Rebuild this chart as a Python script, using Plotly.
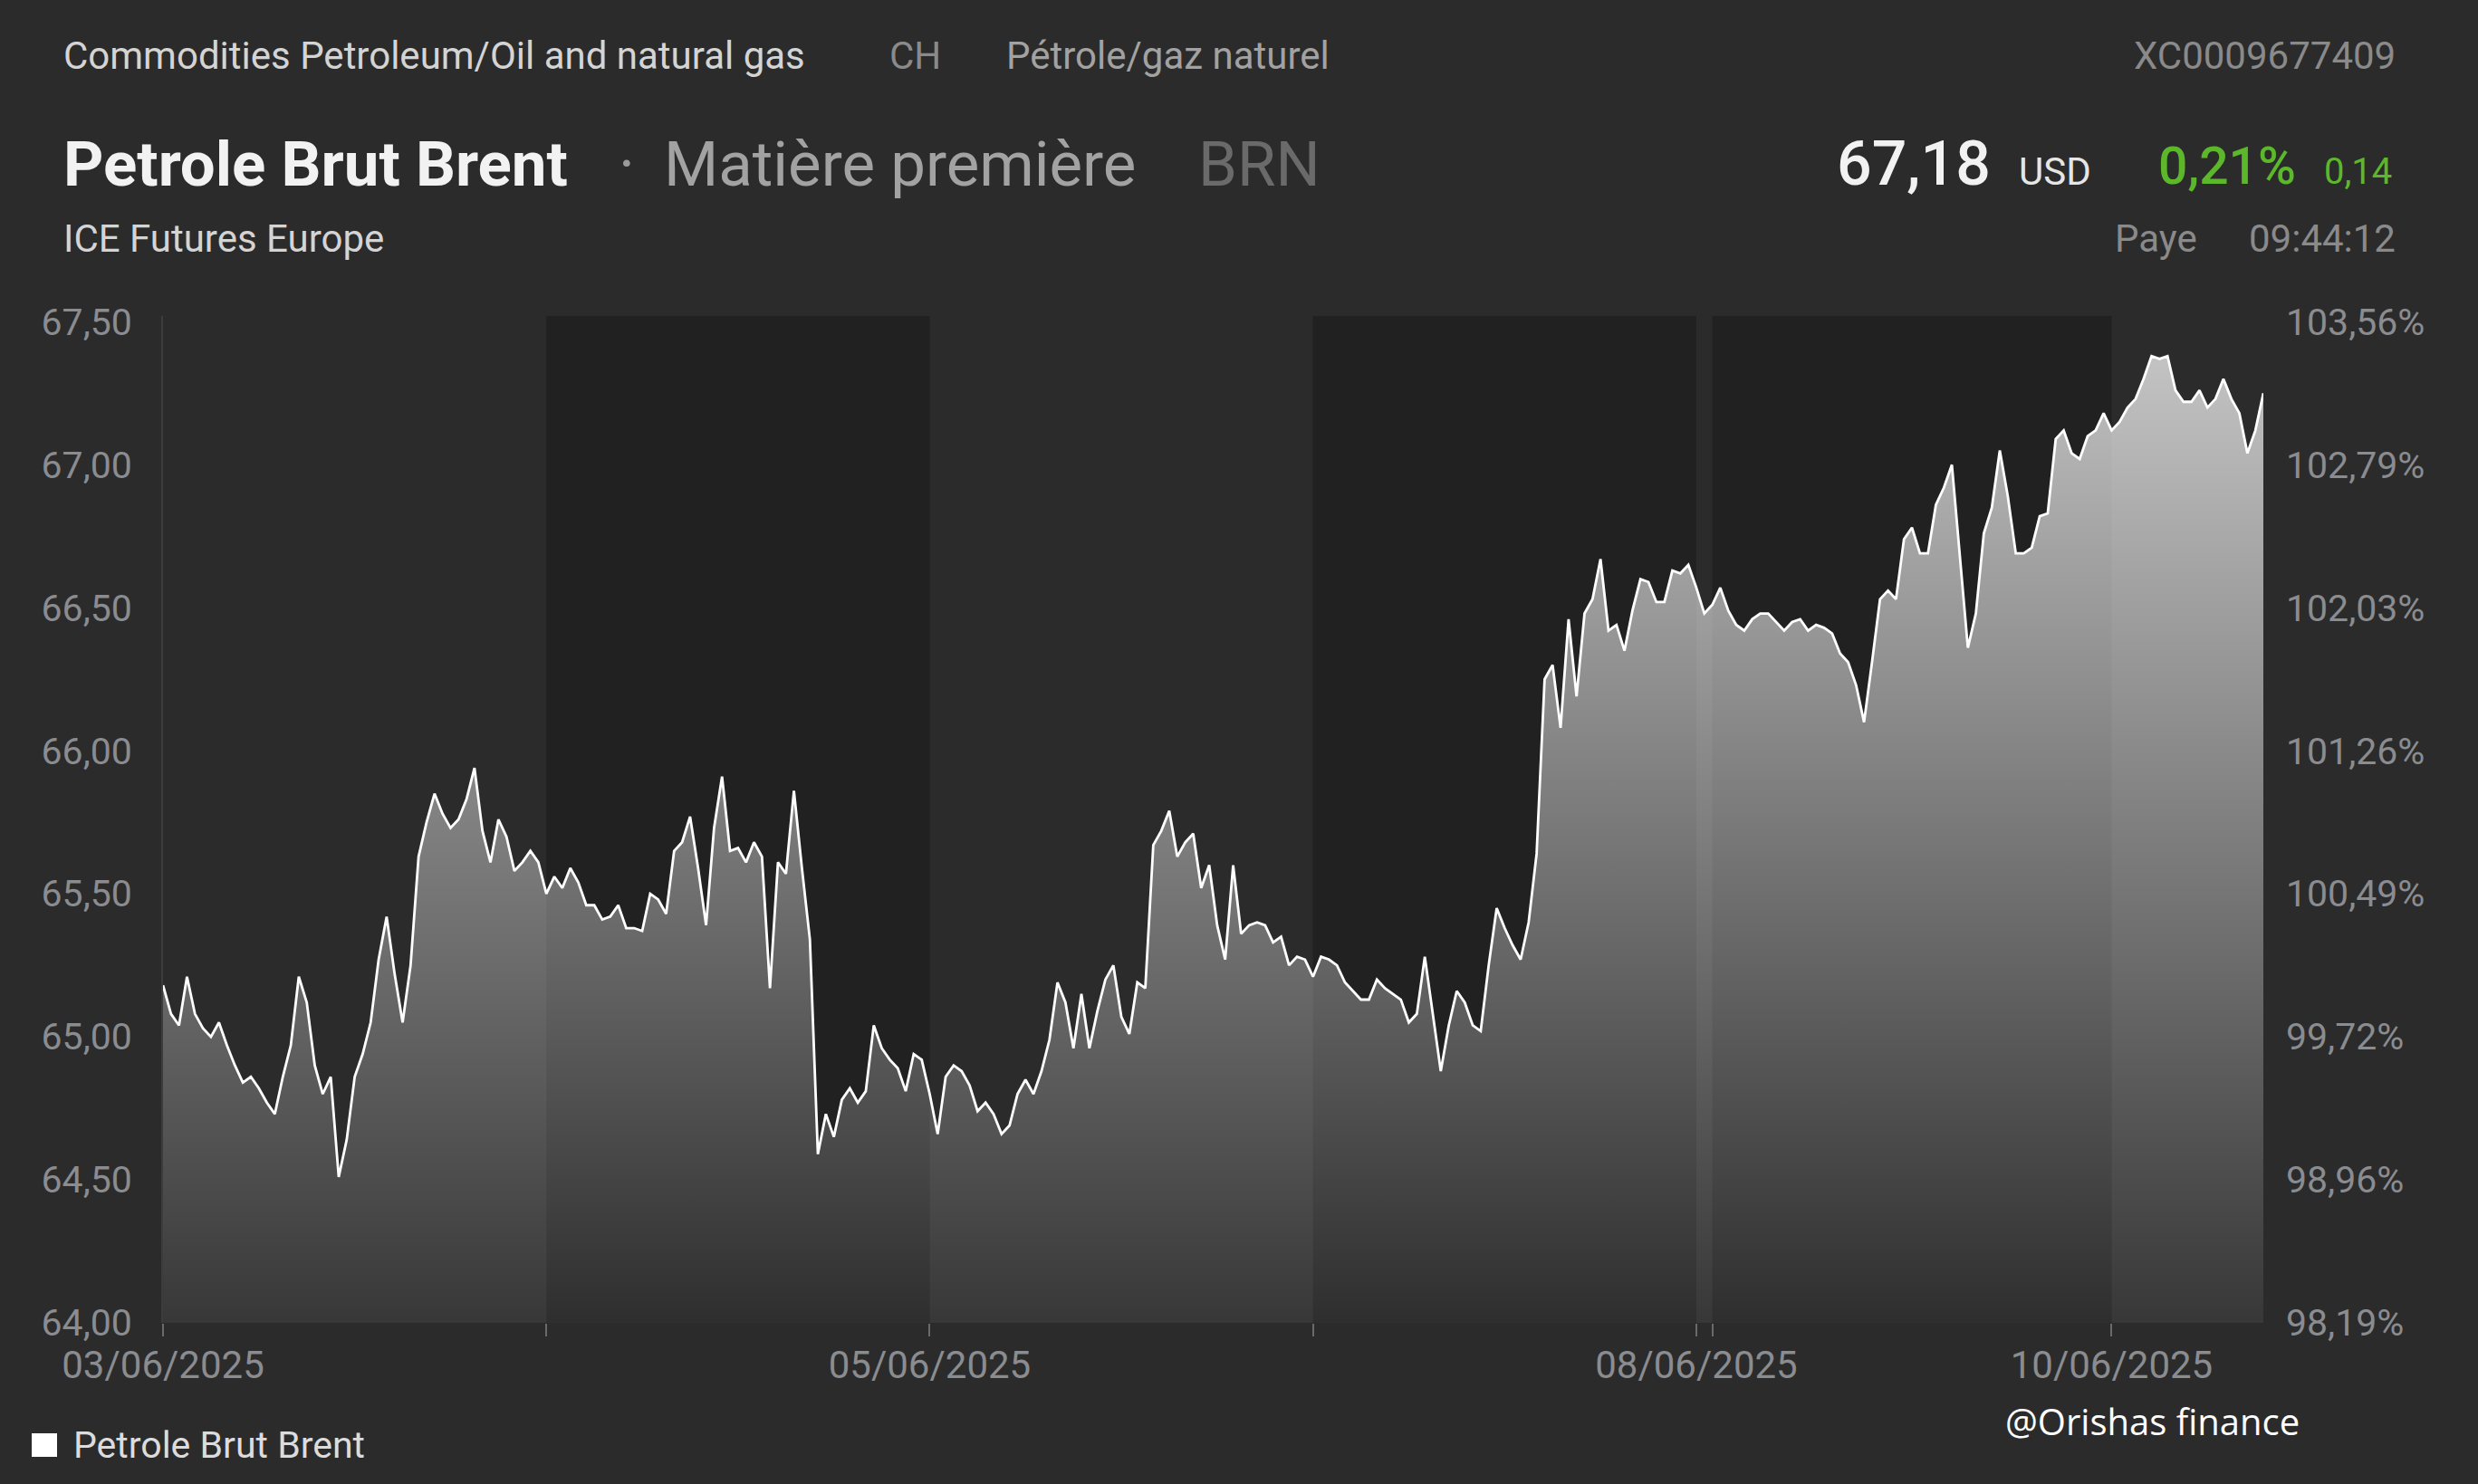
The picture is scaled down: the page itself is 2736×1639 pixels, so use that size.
import plotly.graph_objects as go

# ---- data: Brent price, one value per 30-min bar, grouped by session ----
d0306 = [65.18, 65.08, 65.04, 65.21, 65.08, 65.03, 65.00, 65.05, 64.97, 64.90,
         64.84, 64.86, 64.82, 64.77, 64.73, 64.86, 64.97, 65.21, 65.12, 64.90,
         64.80, 64.86, 64.51, 64.64, 64.86, 64.94, 65.05, 65.27, 65.42, 65.22,
         65.05, 65.25, 65.63, 65.75, 65.85, 65.78, 65.73, 65.76, 65.83, 65.94,
         65.72, 65.61, 65.76, 65.70, 65.58, 65.61, 65.65, 65.61]
d0406 = [65.50, 65.56, 65.52, 65.59, 65.54, 65.46, 65.46, 65.41, 65.42, 65.46,
         65.38, 65.38, 65.37, 65.50, 65.48, 65.43, 65.65, 65.68, 65.77, 65.59,
         65.39, 65.73, 65.91, 65.65, 65.66, 65.61, 65.68, 65.63, 65.17, 65.61,
         65.57, 65.86, 65.59, 65.34, 64.59, 64.73, 64.65, 64.78, 64.82, 64.77,
         64.81, 65.04, 64.96, 64.92, 64.89, 64.81, 64.94, 64.92]
d0506 = [64.80, 64.66, 64.86, 64.90, 64.88, 64.83, 64.74, 64.77, 64.73, 64.66,
         64.69, 64.80, 64.85, 64.80, 64.88, 64.99, 65.19, 65.12, 64.96, 65.15,
         64.96, 65.09, 65.20, 65.25, 65.07, 65.01, 65.19, 65.17, 65.67, 65.72,
         65.79, 65.63, 65.68, 65.71, 65.52, 65.60, 65.39, 65.27, 65.60, 65.36,
         65.39, 65.40, 65.39, 65.33, 65.35, 65.25, 65.28, 65.27]
d0606 = [65.21, 65.28, 65.27, 65.25, 65.19, 65.16, 65.13, 65.13, 65.20, 65.17,
         65.15, 65.13, 65.05, 65.08, 65.28, 65.08, 64.88, 65.04, 65.16, 65.12,
         65.04, 65.02, 65.25, 65.45, 65.38, 65.32, 65.27, 65.40, 65.64, 66.25,
         66.30, 66.08, 66.46, 66.19, 66.48, 66.53, 66.67, 66.42, 66.44, 66.35,
         66.49, 66.60, 66.59, 66.52, 66.52, 66.63, 66.62, 66.65]
d0806 = [66.57, 66.48]
d0906 = [66.51, 66.57, 66.49, 66.44, 66.42, 66.46, 66.48, 66.48, 66.45, 66.42,
         66.45, 66.46, 66.42, 66.44, 66.43, 66.41, 66.34, 66.31, 66.23, 66.10,
         66.31, 66.53, 66.56, 66.53, 66.74, 66.78, 66.69, 66.69, 66.86, 66.92,
         67.00, 66.68, 66.36, 66.48, 66.76, 66.85, 67.05, 66.89, 66.69, 66.69,
         66.71, 66.82, 66.83, 67.09, 67.12, 67.04, 67.02, 67.10, 67.12, 67.18]
d1006 = [67.12, 67.15, 67.20, 67.23, 67.30, 67.38, 67.37, 67.38, 67.26, 67.22,
         67.22, 67.26, 67.20, 67.23, 67.30, 67.23, 67.18, 67.04, 67.12, 67.25]

sessions = [d0306, d0406, d0506, d0606, d0806, d0906, d1006]
session_labels = ["03/06/2025", "", "05/06/2025", "", "08/06/2025", "", "10/06/2025"]
dark_session = [False, True, False, True, False, True, False]

y_ticks = [64.0, 64.5, 65.0, 65.5, 66.0, 66.5, 67.0, 67.5]
y_ticktext = ["64,00", "64,50", "65,00", "65,50", "66,00", "66,50", "67,00", "67,50"]
pct_ticktext = ["98,19%", "98,96%", "99,72%", "100,49%", "101,26%", "102,03%", "102,79%", "103,56%"]

# ---- build series ----
prices = []
starts = []
for s in sessions:
    starts.append(len(prices))
    prices.extend(s)
x = list(range(len(prices)))
bounds = starts + [len(prices) - 1]

BG = "#2b2b2b"
BAND = "#212121"
W, H = 2736, 1639
L, R, T, B = 180, 2499, 349, 1461


def px(v):
    return (v - L) / (R - L)


def py(v):
    return (B - v) / (B - T)


fig = go.Figure()
fig.add_trace(go.Scatter(
    x=x, y=prices, mode="lines",
    line=dict(color="#ffffff", width=2.8),
    fill="tozeroy",
    fillgradient=dict(type="vertical",
                      colorscale=[[0.0, "rgba(255,255,255,0.06)"],
                                  [1.0, "rgba(255,255,255,0.74)"]],
                      start=64.0, stop=67.5),
    showlegend=False, hoverinfo="skip"))
fig.add_trace(go.Scatter(x=x, y=prices, yaxis="y2", mode="lines",
                         line=dict(width=0), opacity=0,
                         showlegend=False, hoverinfo="skip"))

shapes = []
for i, dark in enumerate(dark_session):
    if dark:
        shapes.append(dict(type="rect", xref="x", yref="paper",
                           x0=bounds[i], x1=bounds[i + 1], y0=0, y1=1,
                           fillcolor=BAND, line=dict(width=0), layer="below"))
# legend square
shapes.append(dict(type="rect", xref="paper", yref="paper",
                   x0=px(35), x1=px(63), y0=py(1609), y1=py(1583),
                   fillcolor="#ffffff", line=dict(width=0)))

FONT = "Roboto"


def ann(text, xpx, ypx, size, color, xanchor="left", weight=None, family=FONT):
    f = dict(family=family, size=size, color=color)
    if weight:
        f["weight"] = weight
    return dict(text=text, xref="paper", yref="paper", x=px(xpx), y=py(ypx),
                xanchor=xanchor, yanchor="middle", showarrow=False, font=f)


annotations = [
    ann("Commodities Petroleum/Oil and natural gas", 68, 61, 42, "#d4d4d4"),
    ann("CH", 980, 61, 42, "#8a8a8a"),
    ann("Pétrole/gaz naturel", 1109, 61, 42, "#a2a2a2"),
    ann("XC0009677409", 2647, 61, 42, "#8a8a8a", xanchor="right"),
    ann("<b>Petrole Brut Brent</b>", 68, 181, 69, "#f2f2f2"),
    ann("·", 681, 181, 69, "#9a9a9a"),
    ann("Matière première", 731, 181, 69, "#a2a2a2"),
    ann("BRN", 1321, 181, 69, "#6a6a6a"),
    ann("67,18", 2026, 181, 68, "#f2f2f2", weight=500),
    ann("USD", 2227, 190, 42, "#e6e6e6"),
    ann("0,21%", 2381, 184, 57, "#5cb82a", weight=500),
    ann("0,14", 2564, 190, 40, "#5cb82a"),
    ann("ICE Futures Europe", 68, 263, 42, "#d4d4d4"),
    ann("Paye", 2333, 263, 42, "#8a8a8a"),
    ann("09:44:12", 2647, 263, 42, "#8a8a8a", xanchor="right"),
    ann("Petrole Brut Brent", 79, 1596, 41, "#dcdcdc"),
    ann("@Orishas finance", 2212, 1569, 40, "#ffffff", family="Open Sans"),
]

fig.update_layout(
    width=W, height=H, autosize=False,
    margin=dict(l=L, r=W - R, t=T, b=H - B, pad=0),
    paper_bgcolor=BG, plot_bgcolor=BG,
    shapes=shapes, annotations=annotations,
    xaxis=dict(range=[0, len(prices) - 1], tickvals=starts, ticktext=session_labels,
               ticks="outside", ticklen=14, tickwidth=2, tickcolor="#6a6a6a",
               showgrid=False, zeroline=False, showline=False,
               tickfont=dict(family=FONT, size=42, color="#8a8c90"),
               ticklabelstandoff=-4),
    yaxis=dict(range=[64.0, 67.52], tickvals=y_ticks, ticktext=y_ticktext,
               showgrid=False, zeroline=False, showline=True,
               linecolor="#3c3c3c", linewidth=2, ticks="",
               tickfont=dict(family=FONT, size=41, color="#8a8c90"),
               ticklabelstandoff=24),
    yaxis2=dict(range=[64.0, 67.52], tickvals=y_ticks, ticktext=pct_ticktext,
                overlaying="y", side="right", showgrid=False, zeroline=False,
                showline=False, ticks="",
                tickfont=dict(family=FONT, size=41, color="#8a8c90"),
                ticklabelstandoff=24),
)

fig.write_html("out.html", config={"displayModeBar": False},
               post_script="document.body.style.margin='0';")
